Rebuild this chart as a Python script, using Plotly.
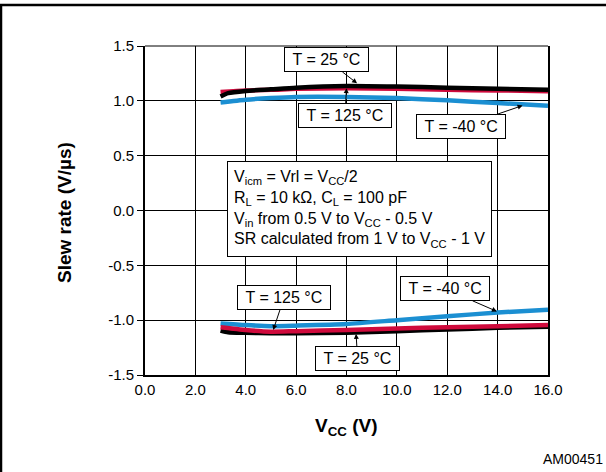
import plotly.graph_objects as go

# ---- data ----
vcc_pos_black = [3.0, 3.3, 4.0, 5.0, 6.0, 8.0, 10.0, 12.0, 14.0, 16.0]
sr_pos_25 = [1.04, 1.07, 1.09, 1.105, 1.12, 1.135, 1.13, 1.12, 1.11, 1.10]
vcc_pos = [3.0, 4.0, 5.0, 6.0, 8.0, 10.0, 12.0, 14.0, 16.0]
sr_pos_125 = [1.08, 1.095, 1.10, 1.11, 1.115, 1.11, 1.10, 1.095, 1.088]
sr_pos_m40 = [0.985, 1.01, 1.025, 1.035, 1.035, 1.025, 1.005, 0.98, 0.955]

vcc_neg_black = [3.0, 3.3, 4.0, 5.0, 6.0, 8.0, 10.0, 12.0, 14.0, 16.0]
sr_neg_25 = [-1.095, -1.11, -1.115, -1.12, -1.12, -1.115, -1.10, -1.085, -1.07, -1.06]
vcc_neg = [3.0, 4.0, 5.0, 6.0, 8.0, 10.0, 12.0, 14.0, 16.0]
sr_neg_125 = [-1.065, -1.09, -1.105, -1.10, -1.09, -1.075, -1.065, -1.055, -1.045]
sr_neg_m40 = [-1.03, -1.045, -1.055, -1.05, -1.035, -1.0, -0.965, -0.93, -0.905]

x_ticks = [0, 2, 4, 6, 8, 10, 12, 14, 16]
x_ticklabels = ["0.0", "2.0", "4.0", "6.0", "8.0", "10.0", "12.0", "14.0", "16.0"]
y_ticks = [-1.5, -1.0, -0.5, 0.0, 0.5, 1.0, 1.5]
y_ticklabels = ["-1.5", "-1.0", "-0.5", "0.0", "0.5", "1.0", "1.5"]

BLACK = "#000000"
RED = "#cf0a3c"
BLUE = "#1b8fd2"
FONT = "Liberation Sans, Arial, Helvetica, sans-serif"

fig = go.Figure()

def add(x, y, color, w=4.5):
    fig.add_trace(go.Scatter(x=x, y=y, mode="lines", line=dict(color=color, width=w, shape="spline", smoothing=0.6),
                             showlegend=False, hoverinfo="skip"))

# positive slew rate
add(vcc_pos, sr_pos_m40, BLUE)
add(vcc_pos, sr_pos_125, RED)
add(vcc_pos_black, sr_pos_25, BLACK)
# negative slew rate
add(vcc_neg, sr_neg_m40, BLUE)
add(vcc_neg_black, sr_neg_25, BLACK)
add(vcc_neg, sr_neg_125, RED)

W, H = 606, 472
L, R, T, B = 145, 58, 46, 97
pw, ph = W - L - R, H - T - B

def px(xp):
    return (xp - L) / pw

def py(yp):
    return (H - B - yp) / ph

def box(text, x, y, tx, ty):
    fig.add_annotation(x=x, y=y, ax=tx, ay=ty, xref="x", yref="y", axref="x", ayref="y",
                       text="&nbsp;" + text + "&nbsp;", showarrow=True, arrowhead=2, arrowsize=1, arrowwidth=1,
                       arrowcolor="black", bgcolor="white", bordercolor="black", borderwidth=1,
                       borderpad=3, font=dict(family=FONT, size=16, color="black"))

box("T = 25 °C", 8.42, 1.16, 7.22, 1.373)
box("T = 125 °C", 8.0, 1.115, 7.94, 0.864)
box("T = -40 °C", 14.99, 0.957, 12.54, 0.764)
box("T = 125 °C", 5.09, -1.09, 5.52, -0.795)
box("T = -40 °C", 13.97, -0.92, 11.91, -0.714)
box("T = 25 °C", 8.38, -1.125, 8.44, -1.35)

cond = ("V<sub>icm</sub> = Vrl = V<sub>CC</sub>/2<br>"
        "R<sub>L</sub> = 10 kΩ, C<sub>L</sub> = 100 pF<br>"
        "V<sub>in</sub> from 0.5 V to V<sub>CC</sub> - 0.5 V<br>"
        "SR calculated from 1 V to V<sub>CC</sub> - 1 V")
fig.add_annotation(x=8.51, y=0.018, xref="x", yref="y", text=cond, showarrow=False, align="left",
                   bgcolor="white", bordercolor="black", borderwidth=1, borderpad=6,
                   font=dict(family=FONT, size=16, color="black"))

# axis titles
fig.add_annotation(x=px(64), y=py(213), xref="paper", yref="paper", text="<b>Slew rate (V/µs)</b>",
                   textangle=-90, showarrow=False, xanchor="center", yanchor="middle",
                   font=dict(family=FONT, size=19, color="black"))
fig.add_annotation(x=px(346), y=py(427), xref="paper", yref="paper", text="<b>V<sub>CC</sub> (V)</b>",
                   showarrow=False, xanchor="center", yanchor="middle",
                   font=dict(family=FONT, size=19, color="black"))
fig.add_annotation(x=px(605), y=py(459), xref="paper", yref="paper", text="AM00451",
                   xanchor="right", yanchor="middle", showarrow=False,
                   font=dict(family=FONT, size=14, color="black"))

# top gridline and image frame
fig.add_shape(type="line", xref="paper", yref="paper", x0=0, x1=1, y0=1, y1=1,
              line=dict(color="black", width=1))
fig.add_shape(type="line", xref="paper", yref="paper", x0=px(0), x1=px(606), y0=py(5), y1=py(5),
              line=dict(color="black", width=2.5))
fig.add_shape(type="line", xref="paper", yref="paper", x0=px(1), x1=px(1), y0=py(4), y1=py(472),
              line=dict(color="black", width=2.5))

fig.update_xaxes(range=[0, 16], tickvals=x_ticks, ticktext=x_ticklabels, showgrid=True, gridcolor="black",
                 gridwidth=1, zeroline=False, showline=True, linecolor="black", linewidth=2, mirror=False,
                 ticks="", tickfont=dict(family=FONT, size=15, color="black"))
fig.update_yaxes(range=[-1.5, 1.5], tickvals=y_ticks, ticktext=y_ticklabels, showgrid=True, gridcolor="black",
                 gridwidth=1, zeroline=False, showline=True, linecolor="black", linewidth=2, mirror=True,
                 ticks="outside", ticklen=6, tickcolor="black", tickwidth=1,
                 tickfont=dict(family=FONT, size=15, color="black"))

fig.update_layout(width=W, height=H, margin=dict(l=L, r=R, t=T, b=B), plot_bgcolor="white",
                  paper_bgcolor="white", showlegend=False)

fig.write_html("out.html", config={"displayModeBar": False},
               post_script="document.body.style.margin='0';document.body.style.padding='0';")
